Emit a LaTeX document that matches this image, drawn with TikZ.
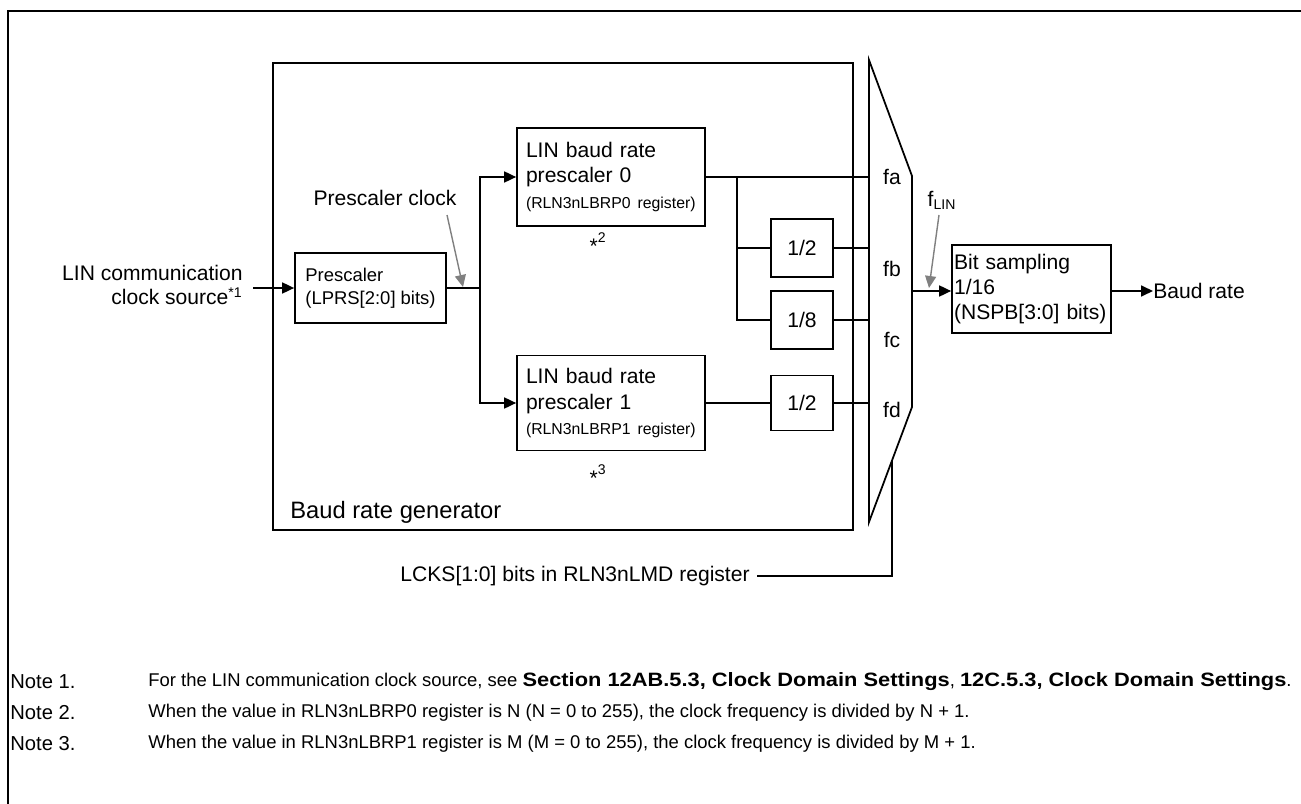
\documentclass[tikz,border=0pt]{standalone}
\usepackage{fontspec}
\setmainfont{Liberation Sans}
\newfontfamily\refbold[FakeStretch=1.13]{Liberation Sans}
\usetikzlibrary{arrows.meta, calc}
\newcommand{\regfont}{\fontsize{9}{11}\selectfont}
\newcommand{\boldref}[1]{{\refbold\bfseries\fontsize{11}{12}\selectfont #1}}
\tikzset{
    block/.style={rectangle, draw, line width=1pt, align=left, inner ysep=0pt, font=\fontsize{12}{14.5}\selectfont},
    divbox/.style={rectangle, draw, line width=1pt, minimum width=1.24cm, minimum height=1.16cm, inner sep=0pt, font=\fontsize{12}{14}\selectfont},
    label/.style={inner sep=0pt, font=\fontsize{12}{14}\selectfont},
    note/.style={anchor=west, inner sep=0pt, font=\fontsize{10.5}{12}\selectfont},
    notetag/.style={anchor=west, inner sep=0pt, font=\fontsize{11.5}{12}\selectfont},
    wire/.style={line width=1pt},
    arrow/.style={-{Triangle[length=2.4mm, width=2.2mm]}, line width=1pt},
    hint/.style={-{Triangle[length=2.4mm, width=2.2mm]}, line width=0.8pt, gray},
}

\begin{document}
\begin{tikzpicture}[x=0.02cm, y=-0.02cm]
    \useasboundingbox (0,0) rectangle (1301,804);
    % page frame
    \draw[line width=1.5pt] (8,804) -- (8,11) -- (1301,11);

    % baud rate generator
    \node[rectangle, draw, line width=1pt, minimum width=11.6cm, minimum height=9.34cm] (brg) at (563,296.5) {};
    \node[label, anchor=west, font=\fontsize{13.5}{14}\selectfont] (brglbl) at (290,512) {Baud rate generator};

    \node[block, minimum width=3.02cm, minimum height=1.4cm, inner xsep=0pt,
          font=\fontsize{10.5}{13}\selectfont] (presc) at (370.5,288) {Prescaler\\(LPRS[2:0] bits)};
    \node[label, align=right, anchor=east] (src) at (243,285) {LIN communication\\clock source\textsuperscript{*1}};
    \coordinate (srcend) at (253,288);

    \node[block, minimum width=3.76cm, minimum height=1.96cm, text width=3.4cm, inner xsep=0.18cm] (brp0) at (611,177)
        {LIN baud rate\\prescaler 0\\{\regfont (RLN3nLBRP0 register)}};
    \node[block, minimum width=3.76cm, minimum height=1.9cm, text width=3.4cm, inner xsep=0.18cm] (brp1) at (611,403)
        {LIN baud rate\\prescaler 1\\{\regfont (RLN3nLBRP1 register)}};
    \node[label] (star2) at (598,243) {\raisebox{-0.3ex}{*}\textsuperscript{2}};
    \node[label] (star3) at (598,475) {\raisebox{-0.3ex}{*}\textsuperscript{3}};

    \node[label] (pclk) at (385,198) {Prescaler clock};
    \coordinate (split) at (480,288);
    \coordinate (pclktip) at (463,287);

    \node[divbox] (divb) at (802,248) {1/2};
    \node[divbox] (divc) at (802,320) {1/8};
    \node[divbox, minimum height=1.1cm] (divd) at (802,403) {1/2};
    \coordinate (tap) at (737,177);

    % selector
    \coordinate (mtl) at (869,60);
    \coordinate (mtr) at (912,176);
    \coordinate (mbr) at (912,407);
    \coordinate (mbl) at (869,522);
    \draw[line width=1pt] (mtl) -- (mtr) -- (mbr) -- (mbl) -- cycle;
    \node[label] (fa) at (892,177) {fa};
    \node[label] (fb) at (892,269) {fb};
    \node[label] (fc) at (892,340) {fc};
    \node[label] (fd) at (892,410) {fd};
    \coordinate (mout) at (912,291);
    \coordinate (msel) at (892,460);

    \node[block, minimum width=3.18cm, minimum height=1.76cm, text width=3.1cm, inner xsep=0.04cm,
          font=\fontsize{12}{14.2}\selectfont] (bits) at (1031.5,289) {Bit sampling\\1/16\\(NSPB[3:0] bits)};
    \node[label, anchor=west] (baud) at (1153,291) {Baud rate};
    \node[label] (flin) at (942,200) {f\textsubscript{LIN}};

    \node[label, anchor=east] (lcks) at (750,576) {LCKS[1:0] bits in RLN3nLMD register};

    % connections
    \draw[arrow] (srcend) -- (presc.west |- srcend);
    \draw[wire] (presc.east |- split) -- (split);
    \draw[arrow] (split) |- (brp0.west);
    \draw[arrow] (split) |- (brp1.west);
    \draw[wire] (brp0.east) -- (brp0.east -| mtl);
    \draw[wire] (tap) |- (divb.west);
    \draw[wire] (tap) |- (divc.west);
    \draw[wire] (brp1.east) -- (divd.west);
    \draw[wire] (divb.east) -- (divb.east -| mtl);
    \draw[wire] (divc.east) -- (divc.east -| mtl);
    \draw[wire] (divd.east) -- (divd.east -| mtl);
    \draw[arrow] (mout) -- (bits.west |- mout);
    \draw[arrow] (bits.east |- mout) -- (baud.west);
    \draw[wire] (msel) |- ([xshift=0.14cm]lcks.east);

    \draw[hint] (447,215) -- (pclktip);
    \draw[hint] (939,215) -- (929,288);

    % notes
    \node[notetag] (n1) at (10,682) {Note 1.};
    \node[notetag] (n2) at (10,713) {Note 2.};
    \node[notetag] (n3) at (10,744) {Note 3.};
    \node[note] (t1) at (148,682) {For the LIN communication clock source, see \boldref{Section 12AB.5.3, Clock Domain Settings}, \boldref{12C.5.3, Clock Domain Settings}.};
    \node[note] (t2) at (148,713) {When the value in RLN3nLBRP0 register is N (N = 0 to 255), the clock frequency is divided by N + 1.};
    \node[note] (t3) at (148,744) {When the value in RLN3nLBRP1 register is M (M = 0 to 255), the clock frequency is divided by M + 1.};
\end{tikzpicture}
\end{document}
